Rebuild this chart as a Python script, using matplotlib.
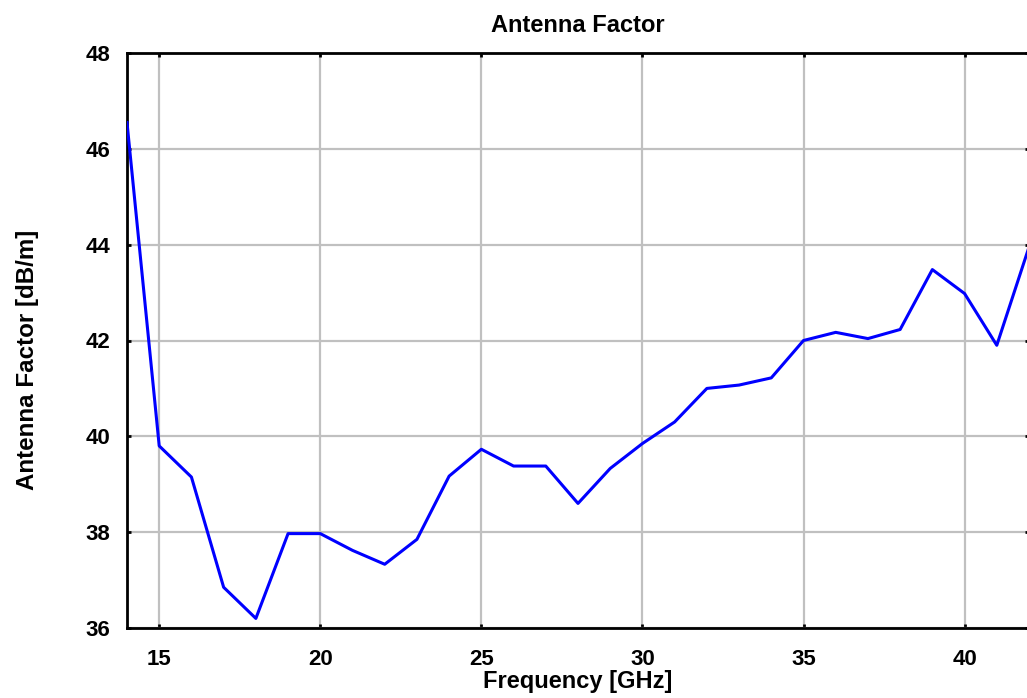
import numpy as np
import matplotlib
matplotlib.use('Agg')
import matplotlib.pyplot as plt

plt.rcParams['font.family'] = ['Liberation Sans', 'DejaVu Sans']
plt.rcParams['font.weight'] = 'bold'

freq = np.arange(14, 43)
af = [46.55, 39.8, 39.15, 36.85, 36.2, 37.97, 37.97, 37.62, 37.33, 37.85,
      39.17, 39.73, 39.38, 39.38, 38.6, 39.33, 39.85, 40.3, 41.0, 41.07,
      41.22, 42.0, 42.17, 42.04, 42.23, 43.48, 42.98, 41.9, 43.95]
xticks = [15, 20, 25, 30, 35, 40]
yticks = [36, 38, 40, 42, 44, 46, 48]

W, H = 1027, 698
fig = plt.figure(figsize=(W / 100, H / 100), dpi=100)
ax = fig.add_axes([127 / W, 70 / H, 902 / W, 575 / H])
ax.plot(freq, af, color='#0000ff', lw=2.2, zorder=3)
ax.set_xlim(14, 42)
ax.set_ylim(36, 48)
ax.set_xticks(xticks)
ax.set_yticks(yticks)
ax.grid(True, color='#c0c0c0', lw=1.6, zorder=0)
ax.set_axisbelow(True)
for s in ax.spines.values():
    s.set_linewidth(2)
ax.tick_params(direction='in', length=2.8, width=2, top=True, right=True,
               labelsize=16, pad=12)
ax.tick_params(axis='x', pad=15)
for lab in ax.get_xticklabels() + ax.get_yticklabels():
    lab.set_fontweight('bold')
ax.set_title('Antenna Factor', fontsize=17, fontweight='bold', pad=15)
ax.set_xlabel('Frequency [GHz]', fontsize=17, fontweight='bold', labelpad=0)
ax.set_ylabel('Antenna Factor [dB/m]', fontsize=17.4, fontweight='bold')
ax.yaxis.set_label_coords(-0.098, 0.466)
fig.savefig('out.png', dpi=100)
